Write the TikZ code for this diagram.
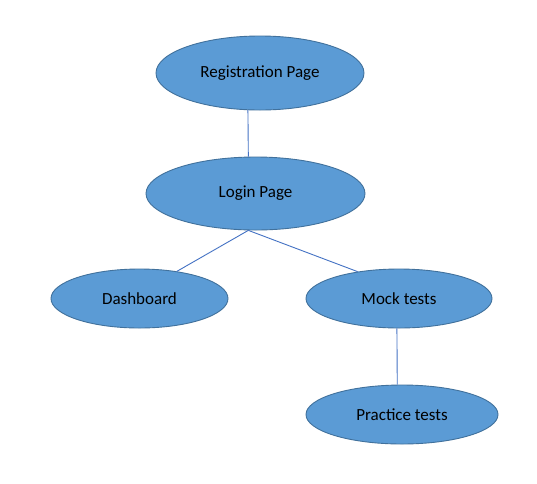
\documentclass[tikz,border=0pt]{standalone}
\usepackage{fontspec}
\setmainfont{Carlito}
\definecolor{ellfill}{HTML}{5B9BD5}
\definecolor{elldraw}{HTML}{41719C}
\definecolor{linkcol}{HTML}{4472C4}
\usetikzlibrary{shapes.geometric}
\begin{document}
\begin{tikzpicture}[x=1pt,y=-1pt,
  ell/.style={ellipse, draw=elldraw, fill=ellfill, line width=0.9pt, inner sep=0pt,
    font=\fontsize{17}{20}\selectfont, text=black},
  link/.style={draw=linkcol, line width=0.9pt}]
\useasboundingbox[fill=white] (0,0) rectangle (537,483);
\node[ell, minimum width=208, minimum height=74] (reg) at (260,73) {Registration Page};
\node[ell, minimum width=219, minimum height=73] (login) at (255.5,193.5) {Login Page};
\node[ell, minimum width=177, minimum height=59] (dash) at (139.5,298.5) {Dashboard};
\node[ell, minimum width=186, minimum height=59] (mock) at (399,298.5) {Mock tests};
\node[ell, minimum width=192, minimum height=59] (prac) at (402,414.5) {Practice tests};
\draw[link] (reg.252) -- (login.101.6);
\draw[link] (login.259) -- (dash.36);
\draw[link] (login.259) -- (mock.147);
\draw[link] (mock.266) -- (prac.99.6);
\end{tikzpicture}
\end{document}
